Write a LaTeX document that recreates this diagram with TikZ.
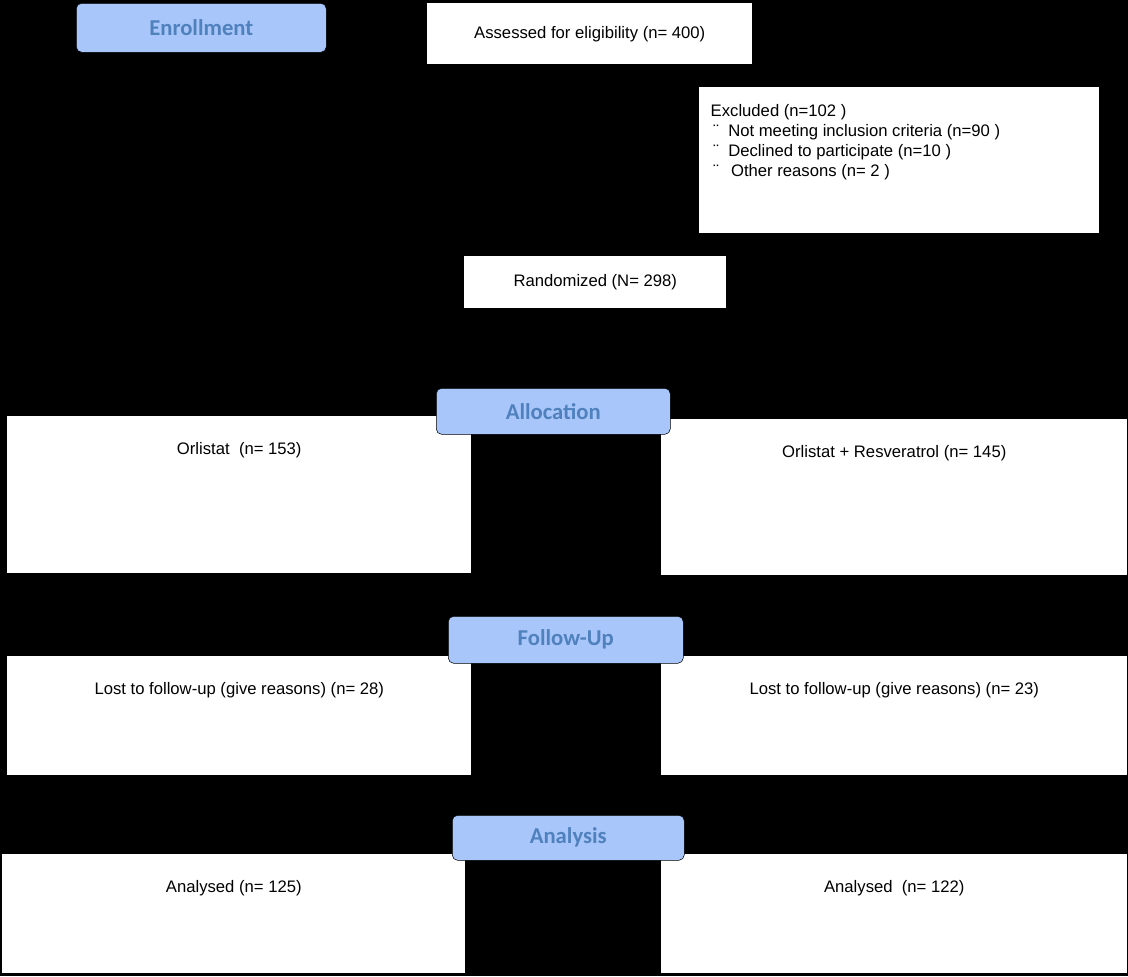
\documentclass[tikz,border=0pt]{standalone}
\usepackage{fontspec}
\setmainfont{Liberation Sans}
\newfontfamily\headfont{Carlito}
\usetikzlibrary{positioning}
\definecolor{headfill}{HTML}{A9C6FA}
\definecolor{headtext}{HTML}{4F81BD}
\tikzset{
  box/.style={draw=none, fill=white, anchor=north west, inner sep=0pt},
  head/.style={draw=black, fill=headfill, rounded corners=4pt, anchor=north west, inner sep=0pt,
    font=\headfont\bfseries\fontsize{17}{20}\selectfont, text=headtext},
  txt/.style={font=\fontsize{12.5}{15}\selectfont, anchor=north}
}
\begin{document}
\begin{tikzpicture}[x=0.75pt,y=-0.75pt]
  \fill[black] (0,0) rectangle (1128,976);
  \useasboundingbox (0,0) rectangle (1128,976);
  % enrollment
  \node[head, minimum width=250*0.75pt, minimum height=49*0.75pt] (enroll) at (76,3) {Enrollment};
  \node[box, minimum width=325*0.75pt, minimum height=61*0.75pt] (assess) at (427,3) {};
  \node[txt, anchor=center] at (assess.center) {Assessed for eligibility (n= 400)};
  \node[box, minimum width=400*0.75pt, minimum height=146*0.75pt] (excl) at (699,87) {};
  \node[txt, anchor=north west, align=left] at (706,100) {Excluded (n=102 )\\
    \,¨\ \ Not meeting inclusion criteria (n=90 )\\
    \,¨\ \ Declined to participate (n=10 )\\
    \,¨\ \ \,Other reasons (n= 2 )};
  \node[box, minimum width=262*0.75pt, minimum height=52*0.75pt] (rand) at (464,256) {};
  \node[txt, anchor=center] at (rand.center) {Randomized (N= 298)};
  % allocation
  \node[box, minimum width=464*0.75pt, minimum height=157*0.75pt] (allocL) at (7,416) {};
  \node[txt] at ([yshift=-16pt]allocL.north) {Orlistat\ \ (n= 153)};
  \node[box, minimum width=466*0.75pt, minimum height=156*0.75pt] (allocR) at (661,419) {};
  \node[txt] at ([yshift=-16pt]allocR.north) {Orlistat + Resveratrol (n= 145)};
  \node[head, minimum width=234*0.75pt, minimum height=46*0.75pt] (alloc) at (436,388) {Allocation};
  % follow-up
  \node[box, minimum width=464*0.75pt, minimum height=119*0.75pt] (lostL) at (7,656) {};
  \node[txt] at ([yshift=-16pt]lostL.north) {Lost to follow-up (give reasons) (n= 28)};
  \node[box, minimum width=466*0.75pt, minimum height=119*0.75pt] (lostR) at (661,656) {};
  \node[txt] at ([yshift=-16pt]lostR.north) {Lost to follow-up (give reasons) (n= 23)};
  \node[head, minimum width=235*0.75pt, minimum height=47*0.75pt] (follow) at (448,616) {Follow-Up};
  % analysis
  \node[box, minimum width=463*0.75pt, minimum height=119*0.75pt] (anaL) at (2,854) {};
  \node[txt] at ([yshift=-16pt]anaL.north) {Analysed (n= 125)};
  \node[box, minimum width=466*0.75pt, minimum height=119*0.75pt] (anaR) at (661,854) {};
  \node[txt] at ([yshift=-16pt]anaR.north) {Analysed\ \ (n= 122)};
  \node[head, minimum width=232*0.75pt, minimum height=45*0.75pt] (ana) at (452,815) {Analysis};
\end{tikzpicture}
\end{document}
